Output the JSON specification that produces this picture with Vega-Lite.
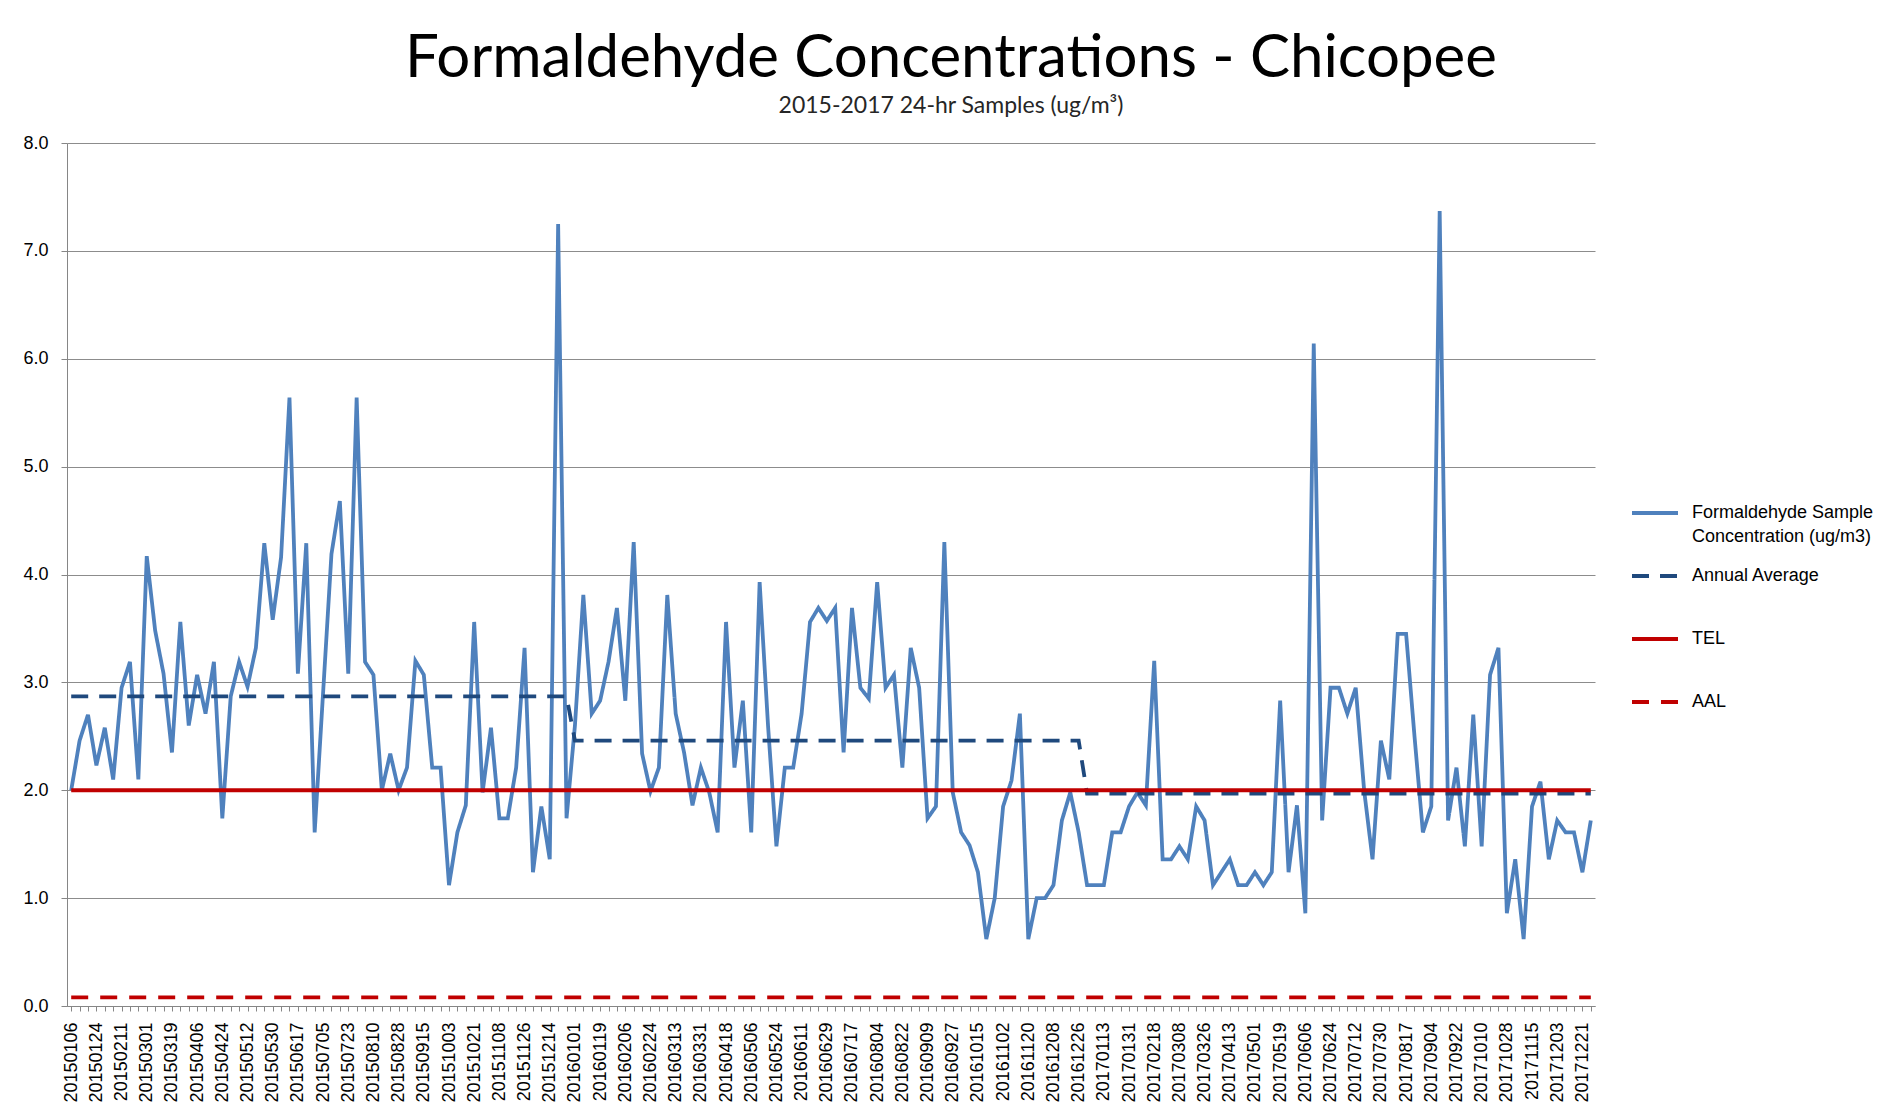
{
  "$schema": "https://vega.github.io/schema/vega-lite/v6.json",
  "width": 1528,
  "height": 863,
  "autosize": "none",
  "padding": {"left": 67, "top": 143, "right": 290, "bottom": 106},
  "background": "white",
  "title": {
    "text": "Formaldehyde Concentrations - Chicopee",
    "subtitle": "2015-2017 24-hr Samples (ug/m³)",
    "anchor": "middle",
    "dx": 120,
    "offset": 15,
    "font": "Lato",
    "fontSize": 60,
    "fontWeight": "normal",
    "color": "#000000",
    "subtitleFont": "Lato",
    "subtitleFontSize": 23,
    "subtitleColor": "#262626",
    "subtitlePadding": 5
  },
  "data": {"values": [
    {"d":"20150106","conc":2.00,"avg":2.87,"tel":2,"aal":0.08},
    {"d":"20150112","conc":2.46,"avg":2.87,"tel":2,"aal":0.08},
    {"d":"20150118","conc":2.70,"avg":2.87,"tel":2,"aal":0.08},
    {"d":"20150124","conc":2.23,"avg":2.87,"tel":2,"aal":0.08},
    {"d":"20150130","conc":2.58,"avg":2.87,"tel":2,"aal":0.08},
    {"d":"20150205","conc":2.10,"avg":2.87,"tel":2,"aal":0.08},
    {"d":"20150211","conc":2.95,"avg":2.87,"tel":2,"aal":0.08},
    {"d":"20150217","conc":3.19,"avg":2.87,"tel":2,"aal":0.08},
    {"d":"20150223","conc":2.10,"avg":2.87,"tel":2,"aal":0.08},
    {"d":"20150301","conc":4.17,"avg":2.87,"tel":2,"aal":0.08},
    {"d":"20150307","conc":3.48,"avg":2.87,"tel":2,"aal":0.08},
    {"d":"20150313","conc":3.08,"avg":2.87,"tel":2,"aal":0.08},
    {"d":"20150319","conc":2.35,"avg":2.87,"tel":2,"aal":0.08},
    {"d":"20150325","conc":3.56,"avg":2.87,"tel":2,"aal":0.08},
    {"d":"20150331","conc":2.60,"avg":2.87,"tel":2,"aal":0.08},
    {"d":"20150406","conc":3.07,"avg":2.87,"tel":2,"aal":0.08},
    {"d":"20150412","conc":2.71,"avg":2.87,"tel":2,"aal":0.08},
    {"d":"20150418","conc":3.19,"avg":2.87,"tel":2,"aal":0.08},
    {"d":"20150424","conc":1.74,"avg":2.87,"tel":2,"aal":0.08},
    {"d":"20150430","conc":2.87,"avg":2.87,"tel":2,"aal":0.08},
    {"d":"20150506","conc":3.19,"avg":2.87,"tel":2,"aal":0.08},
    {"d":"20150512","conc":2.96,"avg":2.87,"tel":2,"aal":0.08},
    {"d":"20150518","conc":3.32,"avg":2.87,"tel":2,"aal":0.08},
    {"d":"20150524","conc":4.29,"avg":2.87,"tel":2,"aal":0.08},
    {"d":"20150530","conc":3.58,"avg":2.87,"tel":2,"aal":0.08},
    {"d":"20150605","conc":4.16,"avg":2.87,"tel":2,"aal":0.08},
    {"d":"20150611","conc":5.64,"avg":2.87,"tel":2,"aal":0.08},
    {"d":"20150617","conc":3.08,"avg":2.87,"tel":2,"aal":0.08},
    {"d":"20150623","conc":4.29,"avg":2.87,"tel":2,"aal":0.08},
    {"d":"20150629","conc":1.61,"avg":2.87,"tel":2,"aal":0.08},
    {"d":"20150705","conc":2.90,"avg":2.87,"tel":2,"aal":0.08},
    {"d":"20150711","conc":4.19,"avg":2.87,"tel":2,"aal":0.08},
    {"d":"20150717","conc":4.68,"avg":2.87,"tel":2,"aal":0.08},
    {"d":"20150723","conc":3.08,"avg":2.87,"tel":2,"aal":0.08},
    {"d":"20150729","conc":5.64,"avg":2.87,"tel":2,"aal":0.08},
    {"d":"20150804","conc":3.19,"avg":2.87,"tel":2,"aal":0.08},
    {"d":"20150810","conc":3.07,"avg":2.87,"tel":2,"aal":0.08},
    {"d":"20150816","conc":2.00,"avg":2.87,"tel":2,"aal":0.08},
    {"d":"20150822","conc":2.34,"avg":2.87,"tel":2,"aal":0.08},
    {"d":"20150828","conc":2.00,"avg":2.87,"tel":2,"aal":0.08},
    {"d":"20150903","conc":2.21,"avg":2.87,"tel":2,"aal":0.08},
    {"d":"20150909","conc":3.20,"avg":2.87,"tel":2,"aal":0.08},
    {"d":"20150915","conc":3.07,"avg":2.87,"tel":2,"aal":0.08},
    {"d":"20150921","conc":2.21,"avg":2.87,"tel":2,"aal":0.08},
    {"d":"20150927","conc":2.21,"avg":2.87,"tel":2,"aal":0.08},
    {"d":"20151003","conc":1.12,"avg":2.87,"tel":2,"aal":0.08},
    {"d":"20151009","conc":1.61,"avg":2.87,"tel":2,"aal":0.08},
    {"d":"20151015","conc":1.86,"avg":2.87,"tel":2,"aal":0.08},
    {"d":"20151021","conc":3.56,"avg":2.87,"tel":2,"aal":0.08},
    {"d":"20151027","conc":1.98,"avg":2.87,"tel":2,"aal":0.08},
    {"d":"20151102","conc":2.58,"avg":2.87,"tel":2,"aal":0.08},
    {"d":"20151108","conc":1.74,"avg":2.87,"tel":2,"aal":0.08},
    {"d":"20151114","conc":1.74,"avg":2.87,"tel":2,"aal":0.08},
    {"d":"20151120","conc":2.21,"avg":2.87,"tel":2,"aal":0.08},
    {"d":"20151126","conc":3.32,"avg":2.87,"tel":2,"aal":0.08},
    {"d":"20151202","conc":1.24,"avg":2.87,"tel":2,"aal":0.08},
    {"d":"20151208","conc":1.85,"avg":2.87,"tel":2,"aal":0.08},
    {"d":"20151214","conc":1.36,"avg":2.87,"tel":2,"aal":0.08},
    {"d":"20151220","conc":7.25,"avg":2.87,"tel":2,"aal":0.08},
    {"d":"20151226","conc":1.74,"avg":2.87,"tel":2,"aal":0.08},
    {"d":"20160101","conc":2.60,"avg":2.46,"tel":2,"aal":0.08},
    {"d":"20160107","conc":3.81,"avg":2.46,"tel":2,"aal":0.08},
    {"d":"20160113","conc":2.71,"avg":2.46,"tel":2,"aal":0.08},
    {"d":"20160119","conc":2.83,"avg":2.46,"tel":2,"aal":0.08},
    {"d":"20160125","conc":3.19,"avg":2.46,"tel":2,"aal":0.08},
    {"d":"20160131","conc":3.69,"avg":2.46,"tel":2,"aal":0.08},
    {"d":"20160206","conc":2.83,"avg":2.46,"tel":2,"aal":0.08},
    {"d":"20160212","conc":4.30,"avg":2.46,"tel":2,"aal":0.08},
    {"d":"20160218","conc":2.34,"avg":2.46,"tel":2,"aal":0.08},
    {"d":"20160224","conc":1.99,"avg":2.46,"tel":2,"aal":0.08},
    {"d":"20160301","conc":2.21,"avg":2.46,"tel":2,"aal":0.08},
    {"d":"20160307","conc":3.81,"avg":2.46,"tel":2,"aal":0.08},
    {"d":"20160313","conc":2.71,"avg":2.46,"tel":2,"aal":0.08},
    {"d":"20160319","conc":2.35,"avg":2.46,"tel":2,"aal":0.08},
    {"d":"20160325","conc":1.86,"avg":2.46,"tel":2,"aal":0.08},
    {"d":"20160331","conc":2.21,"avg":2.46,"tel":2,"aal":0.08},
    {"d":"20160406","conc":1.98,"avg":2.46,"tel":2,"aal":0.08},
    {"d":"20160412","conc":1.61,"avg":2.46,"tel":2,"aal":0.08},
    {"d":"20160418","conc":3.56,"avg":2.46,"tel":2,"aal":0.08},
    {"d":"20160424","conc":2.21,"avg":2.46,"tel":2,"aal":0.08},
    {"d":"20160430","conc":2.83,"avg":2.46,"tel":2,"aal":0.08},
    {"d":"20160506","conc":1.61,"avg":2.46,"tel":2,"aal":0.08},
    {"d":"20160512","conc":3.93,"avg":2.46,"tel":2,"aal":0.08},
    {"d":"20160518","conc":2.60,"avg":2.46,"tel":2,"aal":0.08},
    {"d":"20160524","conc":1.48,"avg":2.46,"tel":2,"aal":0.08},
    {"d":"20160530","conc":2.21,"avg":2.46,"tel":2,"aal":0.08},
    {"d":"20160605","conc":2.21,"avg":2.46,"tel":2,"aal":0.08},
    {"d":"20160611","conc":2.71,"avg":2.46,"tel":2,"aal":0.08},
    {"d":"20160617","conc":3.56,"avg":2.46,"tel":2,"aal":0.08},
    {"d":"20160623","conc":3.69,"avg":2.46,"tel":2,"aal":0.08},
    {"d":"20160629","conc":3.57,"avg":2.46,"tel":2,"aal":0.08},
    {"d":"20160705","conc":3.69,"avg":2.46,"tel":2,"aal":0.08},
    {"d":"20160711","conc":2.35,"avg":2.46,"tel":2,"aal":0.08},
    {"d":"20160717","conc":3.69,"avg":2.46,"tel":2,"aal":0.08},
    {"d":"20160723","conc":2.95,"avg":2.46,"tel":2,"aal":0.08},
    {"d":"20160729","conc":2.85,"avg":2.46,"tel":2,"aal":0.08},
    {"d":"20160804","conc":3.93,"avg":2.46,"tel":2,"aal":0.08},
    {"d":"20160810","conc":2.95,"avg":2.46,"tel":2,"aal":0.08},
    {"d":"20160816","conc":3.07,"avg":2.46,"tel":2,"aal":0.08},
    {"d":"20160822","conc":2.21,"avg":2.46,"tel":2,"aal":0.08},
    {"d":"20160828","conc":3.32,"avg":2.46,"tel":2,"aal":0.08},
    {"d":"20160903","conc":2.95,"avg":2.46,"tel":2,"aal":0.08},
    {"d":"20160909","conc":1.74,"avg":2.46,"tel":2,"aal":0.08},
    {"d":"20160915","conc":1.85,"avg":2.46,"tel":2,"aal":0.08},
    {"d":"20160921","conc":4.30,"avg":2.46,"tel":2,"aal":0.08},
    {"d":"20160927","conc":1.98,"avg":2.46,"tel":2,"aal":0.08},
    {"d":"20161003","conc":1.61,"avg":2.46,"tel":2,"aal":0.08},
    {"d":"20161009","conc":1.49,"avg":2.46,"tel":2,"aal":0.08},
    {"d":"20161015","conc":1.24,"avg":2.46,"tel":2,"aal":0.08},
    {"d":"20161021","conc":0.62,"avg":2.46,"tel":2,"aal":0.08},
    {"d":"20161027","conc":1.00,"avg":2.46,"tel":2,"aal":0.08},
    {"d":"20161102","conc":1.85,"avg":2.46,"tel":2,"aal":0.08},
    {"d":"20161108","conc":2.09,"avg":2.46,"tel":2,"aal":0.08},
    {"d":"20161114","conc":2.71,"avg":2.46,"tel":2,"aal":0.08},
    {"d":"20161120","conc":0.62,"avg":2.46,"tel":2,"aal":0.08},
    {"d":"20161126","conc":1.00,"avg":2.46,"tel":2,"aal":0.08},
    {"d":"20161202","conc":1.00,"avg":2.46,"tel":2,"aal":0.08},
    {"d":"20161208","conc":1.12,"avg":2.46,"tel":2,"aal":0.08},
    {"d":"20161214","conc":1.72,"avg":2.46,"tel":2,"aal":0.08},
    {"d":"20161220","conc":1.98,"avg":2.46,"tel":2,"aal":0.08},
    {"d":"20161226","conc":1.61,"avg":2.46,"tel":2,"aal":0.08},
    {"d":"20170101","conc":1.12,"avg":1.97,"tel":2,"aal":0.08},
    {"d":"20170107","conc":1.12,"avg":1.97,"tel":2,"aal":0.08},
    {"d":"20170113","conc":1.12,"avg":1.97,"tel":2,"aal":0.08},
    {"d":"20170119","conc":1.61,"avg":1.97,"tel":2,"aal":0.08},
    {"d":"20170125","conc":1.61,"avg":1.97,"tel":2,"aal":0.08},
    {"d":"20170131","conc":1.85,"avg":1.97,"tel":2,"aal":0.08},
    {"d":"20170206","conc":1.98,"avg":1.97,"tel":2,"aal":0.08},
    {"d":"20170212","conc":1.86,"avg":1.97,"tel":2,"aal":0.08},
    {"d":"20170218","conc":3.20,"avg":1.97,"tel":2,"aal":0.08},
    {"d":"20170224","conc":1.36,"avg":1.97,"tel":2,"aal":0.08},
    {"d":"20170302","conc":1.36,"avg":1.97,"tel":2,"aal":0.08},
    {"d":"20170308","conc":1.48,"avg":1.97,"tel":2,"aal":0.08},
    {"d":"20170314","conc":1.36,"avg":1.97,"tel":2,"aal":0.08},
    {"d":"20170320","conc":1.85,"avg":1.97,"tel":2,"aal":0.08},
    {"d":"20170326","conc":1.72,"avg":1.97,"tel":2,"aal":0.08},
    {"d":"20170401","conc":1.12,"avg":1.97,"tel":2,"aal":0.08},
    {"d":"20170407","conc":1.24,"avg":1.97,"tel":2,"aal":0.08},
    {"d":"20170413","conc":1.36,"avg":1.97,"tel":2,"aal":0.08},
    {"d":"20170419","conc":1.12,"avg":1.97,"tel":2,"aal":0.08},
    {"d":"20170425","conc":1.12,"avg":1.97,"tel":2,"aal":0.08},
    {"d":"20170501","conc":1.24,"avg":1.97,"tel":2,"aal":0.08},
    {"d":"20170507","conc":1.12,"avg":1.97,"tel":2,"aal":0.08},
    {"d":"20170513","conc":1.24,"avg":1.97,"tel":2,"aal":0.08},
    {"d":"20170519","conc":2.83,"avg":1.97,"tel":2,"aal":0.08},
    {"d":"20170525","conc":1.24,"avg":1.97,"tel":2,"aal":0.08},
    {"d":"20170531","conc":1.86,"avg":1.97,"tel":2,"aal":0.08},
    {"d":"20170606","conc":0.86,"avg":1.97,"tel":2,"aal":0.08},
    {"d":"20170612","conc":6.14,"avg":1.97,"tel":2,"aal":0.08},
    {"d":"20170618","conc":1.72,"avg":1.97,"tel":2,"aal":0.08},
    {"d":"20170624","conc":2.95,"avg":1.97,"tel":2,"aal":0.08},
    {"d":"20170630","conc":2.95,"avg":1.97,"tel":2,"aal":0.08},
    {"d":"20170706","conc":2.71,"avg":1.97,"tel":2,"aal":0.08},
    {"d":"20170712","conc":2.95,"avg":1.97,"tel":2,"aal":0.08},
    {"d":"20170718","conc":2.00,"avg":1.97,"tel":2,"aal":0.08},
    {"d":"20170724","conc":1.36,"avg":1.97,"tel":2,"aal":0.08},
    {"d":"20170730","conc":2.46,"avg":1.97,"tel":2,"aal":0.08},
    {"d":"20170805","conc":2.10,"avg":1.97,"tel":2,"aal":0.08},
    {"d":"20170811","conc":3.45,"avg":1.97,"tel":2,"aal":0.08},
    {"d":"20170817","conc":3.45,"avg":1.97,"tel":2,"aal":0.08},
    {"d":"20170823","conc":2.50,"avg":1.97,"tel":2,"aal":0.08},
    {"d":"20170829","conc":1.61,"avg":1.97,"tel":2,"aal":0.08},
    {"d":"20170904","conc":1.85,"avg":1.97,"tel":2,"aal":0.08},
    {"d":"20170910","conc":7.37,"avg":1.97,"tel":2,"aal":0.08},
    {"d":"20170916","conc":1.72,"avg":1.97,"tel":2,"aal":0.08},
    {"d":"20170922","conc":2.21,"avg":1.97,"tel":2,"aal":0.08},
    {"d":"20170928","conc":1.48,"avg":1.97,"tel":2,"aal":0.08},
    {"d":"20171004","conc":2.70,"avg":1.97,"tel":2,"aal":0.08},
    {"d":"20171010","conc":1.48,"avg":1.97,"tel":2,"aal":0.08},
    {"d":"20171016","conc":3.07,"avg":1.97,"tel":2,"aal":0.08},
    {"d":"20171022","conc":3.32,"avg":1.97,"tel":2,"aal":0.08},
    {"d":"20171028","conc":0.86,"avg":1.97,"tel":2,"aal":0.08},
    {"d":"20171103","conc":1.36,"avg":1.97,"tel":2,"aal":0.08},
    {"d":"20171109","conc":0.62,"avg":1.97,"tel":2,"aal":0.08},
    {"d":"20171115","conc":1.85,"avg":1.97,"tel":2,"aal":0.08},
    {"d":"20171121","conc":2.08,"avg":1.97,"tel":2,"aal":0.08},
    {"d":"20171127","conc":1.36,"avg":1.97,"tel":2,"aal":0.08},
    {"d":"20171203","conc":1.72,"avg":1.97,"tel":2,"aal":0.08},
    {"d":"20171209","conc":1.61,"avg":1.97,"tel":2,"aal":0.08},
    {"d":"20171215","conc":1.61,"avg":1.97,"tel":2,"aal":0.08},
    {"d":"20171221","conc":1.24,"avg":1.97,"tel":2,"aal":0.08},
    {"d":"20171227","conc":1.72,"avg":1.97,"tel":2,"aal":0.08}
  ]},
  "transform": [{"fold": ["conc", "avg", "tel", "aal"], "as": ["series", "value"]}],
  "mark": {"type": "line", "strokeWidth": 3.8},
  "encoding": {
    "x": {
      "field": "d",
      "type": "ordinal",
      "sort": null,
      "scale": {"type": "point", "padding": 0.5},
      "axis": {
        "title": null,
        "labelAngle": -90,
        "labelFont": "Liberation Sans",
        "labelFontSize": 18,
        "labelColor": "#000000",
        "labelExpr": "round(datum.index * 181) % 3 === 0 ? datum.label : ''",
        "labelOverlap": false,
        "labelBound": false,
        "labelPadding": 11,
        "ticks": true,
        "tickSize": 5,
        "tickColor": "#868686",
        "domainColor": "#868686",
        "grid": false
      }
    },
    "y": {
      "field": "value",
      "type": "quantitative",
      "scale": {"domain": [0, 8], "nice": false},
      "axis": {
        "title": null,
        "values": [0, 1, 2, 3, 4, 5, 6, 7, 8],
        "format": ".1f",
        "labelFont": "Liberation Sans",
        "labelFontSize": 18,
        "labelColor": "#000000",
        "labelPadding": 13,
        "grid": true,
        "gridColor": "#8c8c8c",
        "gridWidth": 1,
        "domainColor": "#868686",
        "tickColor": "#868686",
        "tickSize": 6
      }
    },
    "color": {
      "field": "series",
      "type": "nominal",
      "scale": {"domain": ["conc", "avg", "tel", "aal"], "range": ["#4F81BD", "#1F497D", "#C00000", "#C00000"]},
      "legend": {
        "title": null,
        "orient": "none",
        "legendX": 1563,
        "legendY": 345,
        "gridAlign": "all",
        "symbolType": "stroke",
        "symbolSize": 2116,
        "symbolStrokeWidth": 4,
        "labelFont": "Liberation Sans",
        "labelFontSize": 18,
        "labelColor": "#000000",
        "labelOffset": 12,
        "labelLimit": 300,
        "rowPadding": 5,
        "labelExpr": "datum.value == 'conc' ? ['Formaldehyde Sample', 'Concentration (ug/m3)'] : datum.value == 'avg' ? 'Annual Average' : datum.value == 'tel' ? 'TEL' : 'AAL'",
        "encode": {"labels": {"update": {"lineHeight": {"value": 24}}}}
      }
    },
    "strokeDash": {
      "field": "series",
      "type": "nominal",
      "scale": {"domain": ["conc", "avg", "tel", "aal"], "range": [[1, 0], [17, 11], [1, 0], [17, 12]]},
      "legend": {
        "title": null,
        "orient": "none",
        "legendX": 1563,
        "legendY": 345,
        "gridAlign": "all",
        "symbolType": "stroke",
        "symbolSize": 2116,
        "symbolStrokeWidth": 4,
        "labelFont": "Liberation Sans",
        "labelFontSize": 18,
        "labelColor": "#000000",
        "labelOffset": 12,
        "labelLimit": 300,
        "rowPadding": 5,
        "labelExpr": "datum.value == 'conc' ? ['Formaldehyde Sample', 'Concentration (ug/m3)'] : datum.value == 'avg' ? 'Annual Average' : datum.value == 'tel' ? 'TEL' : 'AAL'",
        "encode": {"labels": {"update": {"lineHeight": {"value": 24}}}}
      }
    }
  },
  "config": {"view": {"stroke": null}}
}
